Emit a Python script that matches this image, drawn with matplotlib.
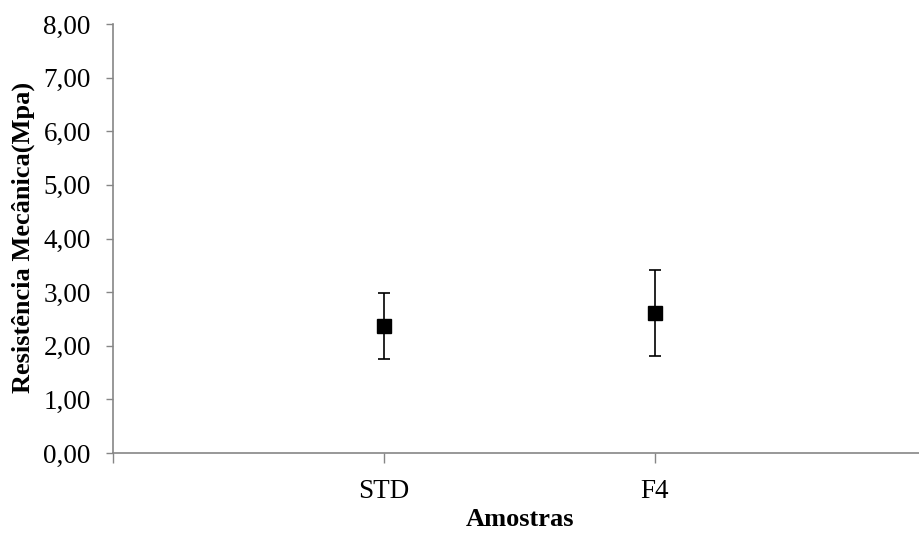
import matplotlib

matplotlib.use("Agg")
import matplotlib.pyplot as plt
from matplotlib.ticker import FuncFormatter

categories = ["STD", "F4"]
means = [2.37, 2.61]
errors = [0.615, 0.805]
y_ticks = [0, 1, 2, 3, 4, 5, 6, 7, 8]

AXIS_GRAY = "#868686"

plt.rcParams["font.family"] = ["Liberation Serif", "DejaVu Serif"]

fig = plt.figure(figsize=(9.2, 5.33), dpi=100)
ax = fig.add_axes([0.1228, 0.150, 0.8772, 0.805])

x = [1, 2]
ax.errorbar(x, means, yerr=errors, fmt="s", color="black", markersize=10,
            ecolor="black", elinewidth=1.2, capsize=4.3, capthick=1.2)

ax.set_xlim(0, 2.98)
ax.set_ylim(0, 8)
ax.set_yticks(y_ticks)
ax.yaxis.set_major_formatter(FuncFormatter(lambda v, _: f"{v:.2f}".replace(".", ",")))
ax.set_xticks([0, 1, 2])
ax.set_xticklabels([""] + categories)

for side in ("top", "right"):
    ax.spines[side].set_visible(False)
for side in ("left", "bottom"):
    ax.spines[side].set_color(AXIS_GRAY)
    ax.spines[side].set_linewidth(1.2)

ax.tick_params(axis="y", direction="out", length=5, width=1, color=AXIS_GRAY,
               labelsize=19.5, pad=11)
ax.tick_params(axis="x", direction="out", length=7, width=1, color=AXIS_GRAY,
               labelsize=19.5, pad=12)

ax.set_ylabel("Resistência Mecânica(Mpa)", fontsize=19, fontweight="bold", va="center")
ax.yaxis.set_label_coords(-0.1115, 0.502)
ax.set_xlabel("Amostras", fontsize=19, fontweight="bold", va="baseline")
ax.xaxis.set_label_coords(0.504, -0.171)

fig.savefig("out.png", dpi=100)
